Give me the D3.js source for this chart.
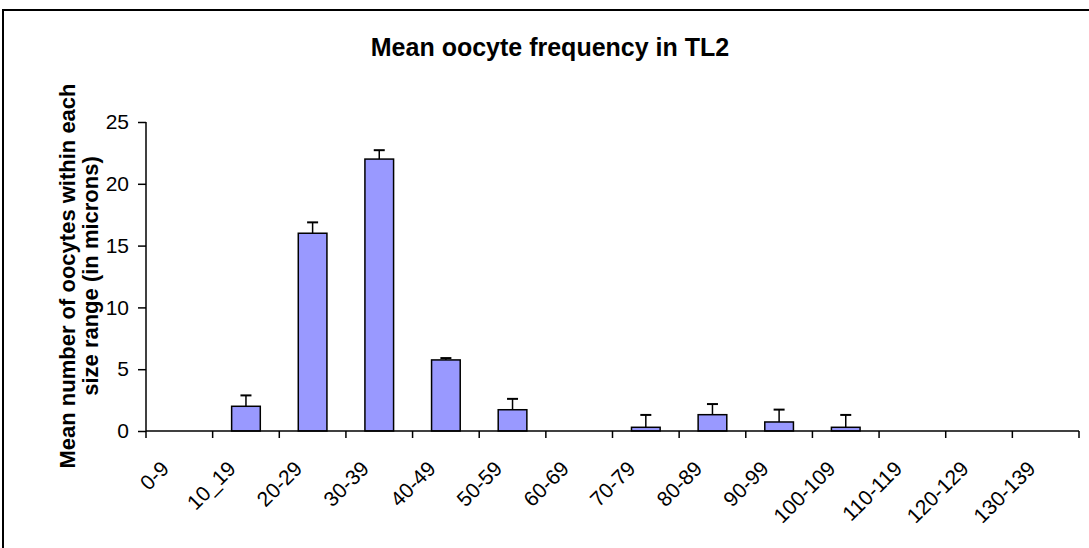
<!DOCTYPE html>
<html><head><meta charset="utf-8">
<script src="https://cdn.jsdelivr.net/npm/d3@7/dist/d3.min.js"></script>
<style>body{margin:0;background:#fff}svg{display:block}text{font-family:"Liberation Sans",Arial,sans-serif}</style>
</head><body><svg id="c" width="1089" height="548"></svg>
<script>
const categories = ["0-9","10_19","20-29","30-39","40-49","50-59","60-69","70-79","80-89","90-99","100-109","110-119","120-129","130-139"];
const means = [0, 2, 16, 22, 5.75, 1.72, 0, 0.3, 1.32, 0.73, 0.3, 0, 0, 0];
const errors = [0, 0.88, 0.88, 0.72, 0.15, 0.88, 0, 1.0, 0.86, 1.0, 1.0, 0, 0, 0];
const yTicks = [0, 5, 10, 15, 20, 25];

const svg = d3.select("#c");
svg.append("rect").attr("x",3).attr("y",10).attr("width",1200).attr("height",700)
  .attr("fill","#fff").attr("stroke","#000").attr("stroke-width",2);

const x = d3.scaleBand().domain(categories).range([146,1079]).paddingInner(0).paddingOuter(0);
const y = d3.scaleLinear().domain([0,25]).range([431,122]);
const bw = x.bandwidth()*0.43;

svg.append("text").attr("x",550).attr("y",56).attr("text-anchor","middle")
  .attr("font-size",25).attr("font-weight","bold").text("Mean oocyte frequency in TL2");

// Y axis
const ya = svg.append("g").attr("transform","translate(146,0)")
  .call(d3.axisLeft(y).tickValues(yTicks).tickSize(8).tickPadding(9).tickFormat(d3.format("d")));
ya.select(".domain").attr("stroke","#000").attr("stroke-width",1.5).attr("d","M0,431V122");
ya.selectAll(".tick line").attr("stroke","#000").attr("stroke-width",1.5);
ya.selectAll(".tick text").attr("font-size",21).attr("fill","#000").style("font-family","Liberation Sans, Arial, sans-serif");

// bars
const bars = svg.append("g");
categories.forEach((c,i)=>{
  const cx = x(c)+x.bandwidth()/2;
  if (means[i] > 0) {
    if (errors[i] > 0) {
      bars.append("line").attr("x1",cx).attr("x2",cx).attr("y1",y(means[i])).attr("y2",y(means[i]+errors[i]))
        .attr("stroke","#000").attr("stroke-width",1.5);
      bars.append("line").attr("x1",cx-5.5).attr("x2",cx+5.5).attr("y1",y(means[i]+errors[i])).attr("y2",y(means[i]+errors[i]))
        .attr("stroke","#000").attr("stroke-width",2);
    }
    bars.append("rect").attr("x",cx-bw/2).attr("y",y(means[i])).attr("width",bw).attr("height",y(0)-y(means[i]))
      .attr("fill","#9999FF").attr("stroke","#000").attr("stroke-width",1.5);
  }
});

// X axis
const xa = svg.append("g").attr("transform","translate(0,431)");
xa.append("line").attr("x1",146).attr("x2",1079).attr("y1",0).attr("y2",0).attr("stroke","#000").attr("stroke-width",1.5);
const edges = categories.map(c=>x(c)).concat([x.range()[1]]);
xa.selectAll(".tk").data(edges).enter().append("line").attr("x1",d=>d).attr("x2",d=>d).attr("y1",0).attr("y2",7)
  .attr("stroke","#000").attr("stroke-width",1.5);
xa.selectAll(".lbl").data(categories).enter().append("text")
  .attr("transform",d=>`translate(${x(d)+x.bandwidth()/2-9},${39}) rotate(-45)`)
  .attr("text-anchor","end").attr("font-size",21).text(d=>d);

// Y label
const yl = svg.append("text").attr("transform","translate(0,276) rotate(-90)").attr("text-anchor","middle")
  .attr("font-size",22).attr("font-weight","bold");
yl.append("tspan").attr("x",0).attr("y",75).text("Mean number of oocytes within each");
yl.append("tspan").attr("x",0).attr("y",98).text("size range (in microns)");
</script></body></html>
